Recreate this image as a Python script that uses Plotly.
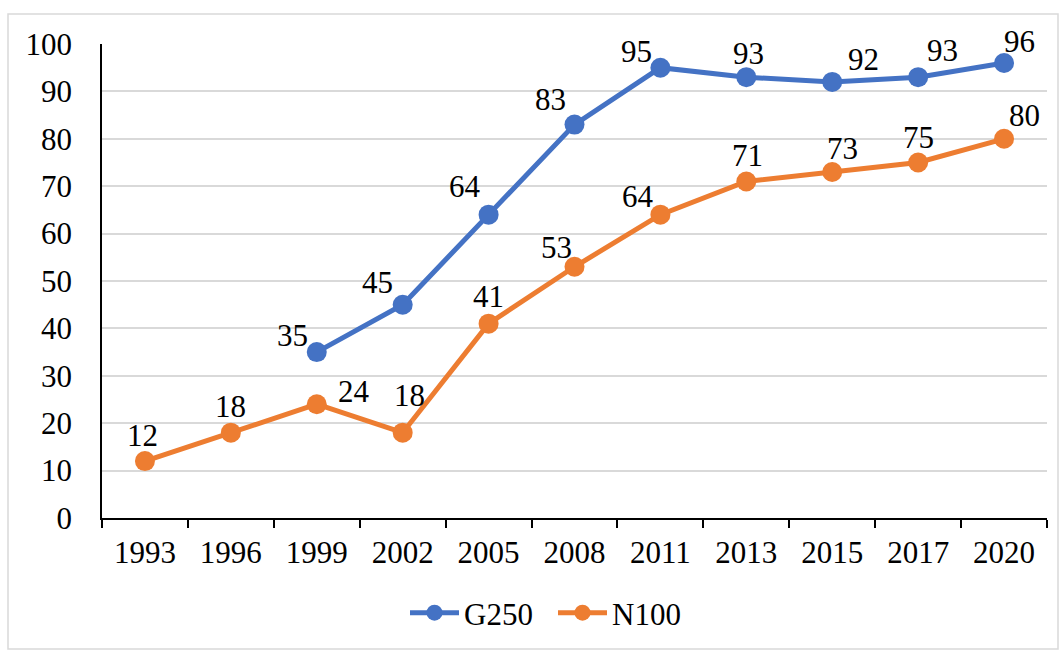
import plotly.graph_objects as go

years = ["1993", "1996", "1999", "2002", "2005", "2008", "2011", "2013", "2015", "2017", "2020"]
g250 = [None, None, 35, 45, 64, 83, 95, 93, 92, 93, 96]
n100 = [12, 18, 24, 18, 41, 53, 64, 71, 73, 75, 80]

# label offsets (px) relative to each point: dx right, dy up
g250_dx = [0, 0, -24, -25, -24, -24, -24, 2, 31, 24, 15]
g250_dy = [0, 0, 20, 25, 31, 28, 19, 27, 25, 30, 24]
n100_dx = [-2, 0, 37, 7, 0, -18, -22, 1, 10, 0, 20]
n100_dy = [29, 29, 16, 40, 30, 22, 21, 29, 26, 28, 26]

BLUE = "#4472C4"
ORANGE = "#ED7D31"
FONT = "Liberation Serif, Times New Roman, serif"
FS = 31
VADJ = 3  # digits sit slightly above the text box centre

fig = go.Figure()
fig.add_trace(go.Scatter(
    x=years, y=g250, name="G250", mode="lines+markers",
    line=dict(color=BLUE, width=5), marker=dict(color=BLUE, size=20),
    connectgaps=False, cliponaxis=False,
))
fig.add_trace(go.Scatter(
    x=years, y=n100, name="N100", mode="lines+markers",
    line=dict(color=ORANGE, width=5), marker=dict(color=ORANGE, size=20),
    cliponaxis=False,
))

for vals, dxs, dys in ((g250, g250_dx, g250_dy), (n100, n100_dx, n100_dy)):
    for i, (v, dx, dy) in enumerate(zip(vals, dxs, dys)):
        if v is None:
            continue
        # category axis: annotation x given as the category index
        fig.add_annotation(x=i, y=v, xref="x", yref="y", text=str(v), showarrow=False,
                           xshift=dx, yshift=dy - VADJ, xanchor="center", yanchor="middle",
                           font=dict(family=FONT, size=FS, color="black"))

L, R, T, B = 102, 15, 44, 133
W, H = 1062, 651
pw, ph = W - L - R, H - T - B

def px_x(p):
    return (p - L) / pw

def px_y(p):
    return (H - B - p) / ph

fig.add_shape(type="rect", xref="paper", yref="paper",
              x0=px_x(8), x1=px_x(1058), y0=px_y(649), y1=px_y(14),
              line=dict(color="#d9d9d9", width=1.5), fillcolor="rgba(0,0,0,0)", layer="below")

fig.update_layout(
    width=W, height=H,
    margin=dict(l=L, r=R, t=T, b=B, autoexpand=False),
    paper_bgcolor="white", plot_bgcolor="white",
    font=dict(family=FONT, size=FS, color="black"),
    showlegend=True,
    legend=dict(orientation="h", x=px_x(405), xanchor="left", y=px_y(613), yanchor="middle",
                font=dict(family=FONT, size=FS, color="black"), traceorder="normal",
                bgcolor="rgba(0,0,0,0)", itemwidth=49, entrywidth=84, entrywidthmode="pixels"),
    xaxis=dict(type="category", showgrid=False, showline=True, linecolor="black", linewidth=1.5,
               ticks="outside", tickson="boundaries", ticklen=8, tickcolor="black", tickwidth=1.5,
               tickfont=dict(family=FONT, size=FS, color="black"), zeroline=False,
               range=[-0.5, len(years) - 0.5], ticklabelstandoff=6),
    yaxis=dict(range=[0, 100], dtick=10, showgrid=True, gridcolor="#d9d9d9", gridwidth=1.5,
               showline=True, linecolor="black", linewidth=1.5, zeroline=False, ticks="",
               tickfont=dict(family=FONT, size=FS, color="black"), ticklabelstandoff=22),
)

fig.write_html("out.html", config={"displayModeBar": False},
               post_script="document.body.style.margin='0';document.body.style.padding='0';")
